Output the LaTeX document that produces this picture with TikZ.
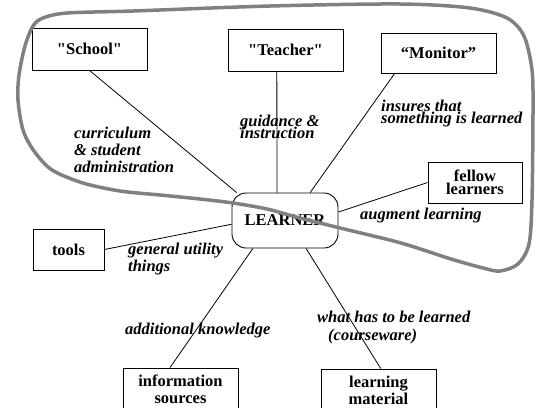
\documentclass[tikz,border=0pt]{standalone}
\usepackage{fontspec}
\setmainfont{Liberation Serif}
\definecolor{loopgray}{gray}{0.5}
\newcommand{\leading}[1]{\fontsize{16.5}{#1}\selectfont\lineskiplimit=-20pt}

\begin{document}
\begin{tikzpicture}[x=1pt, y=-1pt,
    role/.style={draw, line width=0.9pt, inner sep=2pt, align=center, font=\leading{#1}\bfseries,
      minimum width=115pt, minimum height=42pt},
    role/.default=17,
    hub/.style={draw, line width=0.9pt, rounded corners=14pt, minimum width=106pt, minimum height=55pt,
      font=\leading{17}\bfseries},
    flow/.style={font=\leading{#1}\bfseries\itshape, anchor=north west, inner sep=0pt, align=left},
    flow/.default=17,
    link/.style={line width=0.8pt}]
    \useasboundingbox (0,0) rectangle (538,407);

    \node[hub] (learner) at (285,220.5) {LEARNER};

    \node[role] (school) at (89.5,49) {\textquotedbl School\textquotedbl};
    \node[role] (teacher) at (285.5,50) {\textquotedbl Teacher\textquotedbl};
    \node[role, minimum height=40pt] (monitor) at (438.5,53) {“Monitor”};
    \node[role=13, minimum width=94pt, minimum height=41pt] (fellow) at (475,182.5) {fellow\\learners};
    \node[role, minimum width=71pt, minimum height=41pt] (tools) at (68.5,249.5) {tools};
    \node[role] (sources) at (180.5,389) {information\\sources};
    \node[role] (material) at (378.5,390) {learning\\material};

    \node[flow] (curriculum) at (74,126.5) {curriculum\\\& student\\administration};
    \node[flow=12] (guidance) at (240,114.5) {guidance \&\\instruction};
    \node[flow=12] (insures) at (381,99.5) {insures that\\something is learned};
    \node[flow] (augment) at (360,207.5) {augment learning};
    \node[flow] (utility) at (128,242.5) {general utility\\things};
    \node[flow] (knowledge) at (125,322.5) {additional knowledge};
    \node[flow=18] (courseware) at (317,310.5) {what has to be learned\\\hspace{11pt}(courseware)};

    \draw[link] (school.south) -- (learner.150);
    \draw[link] (teacher.248) -- (learner.106);
    \draw[link] (monitor.205) -- (learner.48);
    \draw[link] (fellow.west) -- (learner.9);
    \draw[link] (tools.east) -- (learner.184);
    \draw[link] (sources.116) -- (learner.221);
    \draw[link] (material.84) -- (learner.307);

    \draw[loopgray, line width=3.5pt] plot[smooth cycle] coordinates {
      (43,18) (67,13) (133,11) (270,6) (400,4) (470,8) (507,18) (524,36) (532,70) (533,110)
      (532,200) (529,244) (518,264) (500,271) (483,268) (451,259) (401,243) (340,228) (300,218)
      (267,209) (233,203) (200,199) (160,195) (120,191) (83,183) (52,170) (34,151) (23,130)
      (18,100) (19,75) (25,46) (33,26)};
\end{tikzpicture}
\end{document}
